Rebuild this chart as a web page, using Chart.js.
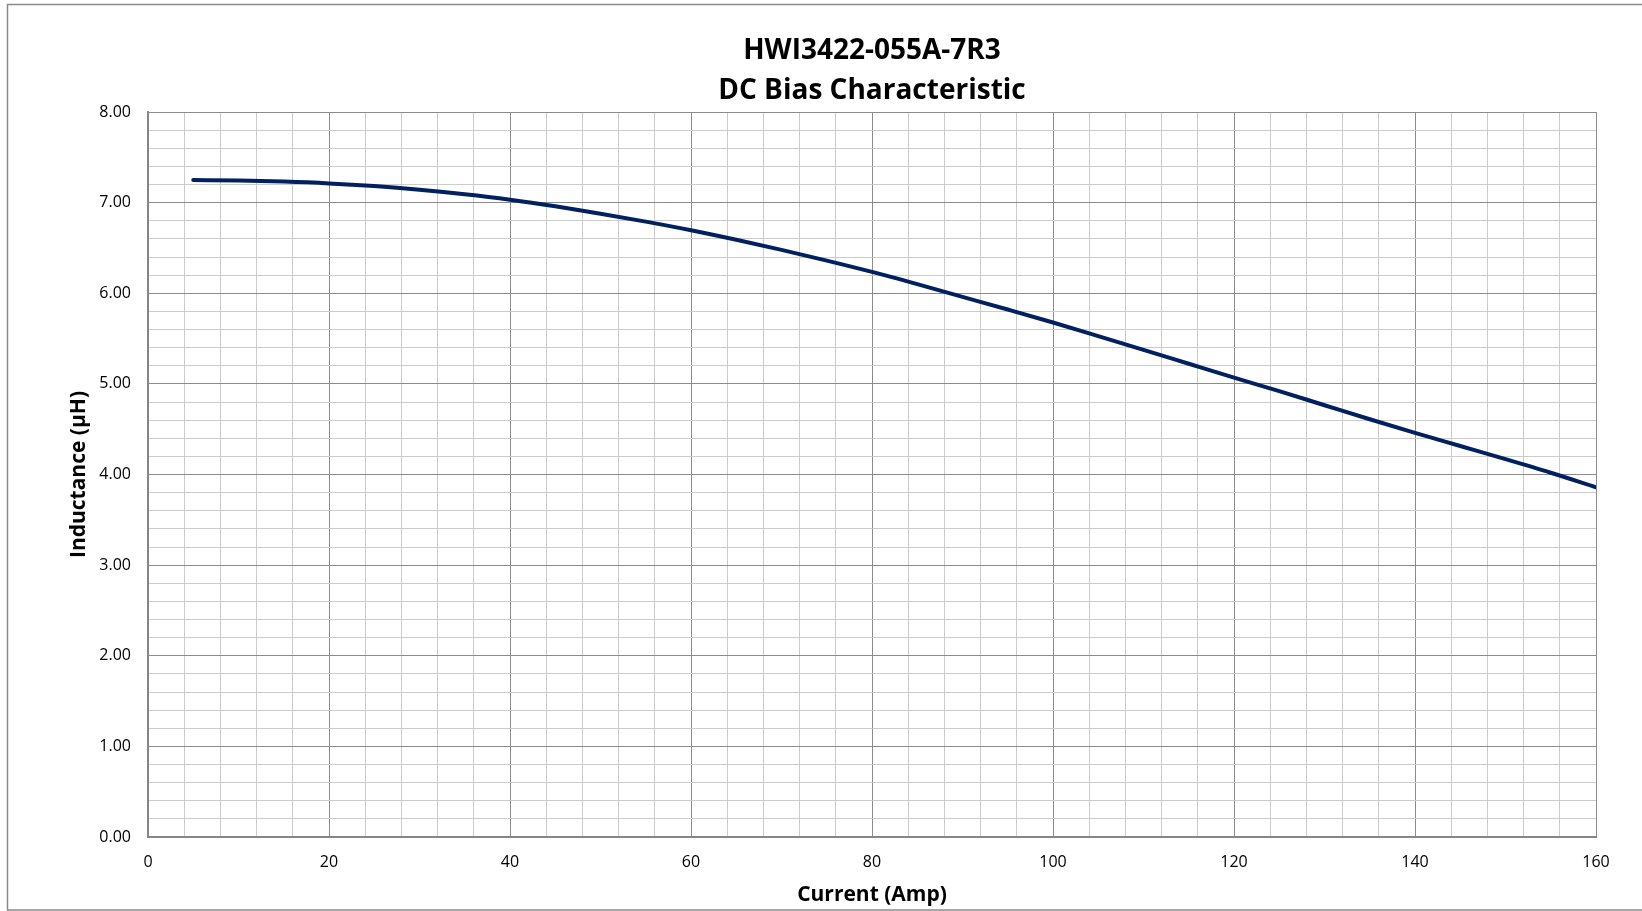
<!DOCTYPE html>
<html>
<head>
<meta charset="utf-8">
<title>HWI3422-055A-7R3 DC Bias Characteristic</title>
<script src="https://cdn.jsdelivr.net/npm/chart.js"></script>
<style>
  html, body { margin: 0; padding: 0; background: #fff; }
  canvas { display: block; }
</style>
</head>
<body>
<canvas id="myChart" width="1642" height="911"></canvas>
<script>
// current (A) and inductance (uH)
const currentAmp = [5, 10, 15, 20, 25, 30, 35, 40, 45, 50, 55, 60, 65, 70, 75, 80,
  85, 90, 95, 100, 105, 110, 115, 120, 125, 130, 135, 140, 145, 150, 155, 160];
const inductanceUH = [7.25, 7.245, 7.233, 7.213, 7.183, 7.143, 7.093, 7.033, 6.961, 6.879, 6.791, 6.696, 6.591, 6.479, 6.361, 6.236,
  6.101, 5.961, 5.821, 5.678, 5.528, 5.376, 5.223, 5.07, 4.92, 4.765, 4.61, 4.46, 4.315, 4.17, 4.02, 3.86];

// labelled (major) ticks
const xMajorTicks = [0, 20, 40, 60, 80, 100, 120, 140, 160];
const yMajorTicks = [0, 1, 2, 3, 4, 5, 6, 7, 8];

const majorGrid = '#8c8c8c';
const minorGrid = '#cbcbcb';

function isMajor(list, v) {
  return list.some(m => Math.abs(m - v) < 1e-6);
}

// white background + outer frame
const frame = {
  id: 'frame',
  beforeDraw(chart) {
    const c = chart.ctx;
    c.save();
    c.fillStyle = '#fff';
    c.fillRect(0, 0, chart.width, chart.height);
    c.strokeStyle = '#8a8a8a';
    c.lineWidth = 1.5;
    c.strokeRect(7.5, 4.5, 1660, 905.5);
    c.restore();
  }
};

const ctx = document.getElementById('myChart');
new Chart(ctx, {
  type: 'line',
  data: {
    datasets: [{
      label: 'Inductance',
      data: currentAmp.map((x, i) => ({ x: x, y: inductanceUH[i] })),
      borderColor: '#002060',
      borderWidth: 4,
      borderCapStyle: 'round',
      pointRadius: 0,
      fill: false,
      cubicInterpolationMode: 'monotone'
    }]
  },
  options: {
    responsive: false,
    animation: false,
    layout: { padding: { left: 0, right: 46, top: 0, bottom: 0 } },
    plugins: {
      legend: { display: false },
      tooltip: { enabled: false },
      title: {
        display: true,
        fullSize: false,
        text: ['HWI3422-055A-7R3', 'DC Bias Characteristic'],
        color: '#000',
        font: { family: 'Open Sans', size: 28, weight: 'bold', lineHeight: 1.43 },
        padding: { top: 31, bottom: 1 }
      }
    },
    scales: {
      x: {
        type: 'linear',
        min: 0,
        max: 160,
        afterFit(scale) { scale.height = 74; },
        ticks: {
          stepSize: 4,
          autoSkip: false,
          maxRotation: 0,
          padding: 16,
          color: '#000',
          font: { family: 'Open Sans', size: 16 },
          callback: v => isMajor(xMajorTicks, v) ? String(v) : ''
        },
        grid: {
          drawTicks: false,
          color: c => (c.tick && isMajor(xMajorTicks, c.tick.value)) ? majorGrid : minorGrid,
          lineWidth: 1
        },
        border: { color: '#868686', width: 2 },
        title: {
          display: true,
          text: 'Current (Amp)',
          color: '#000',
          font: { family: 'Open Sans', size: 21, weight: 'bold' },
          padding: { top: 0, bottom: 3 }
        }
      },
      y: {
        min: 0,
        max: 8,
        afterFit(scale) { scale.width = 148; },
        ticks: {
          stepSize: 0.2,
          autoSkip: false,
          padding: 17,
          color: '#000',
          font: { family: 'Open Sans', size: 16 },
          callback: v => isMajor(yMajorTicks, v) ? Number(v).toFixed(2) : ''
        },
        grid: {
          drawTicks: false,
          color: c => (c.tick && isMajor(yMajorTicks, c.tick.value)) ? majorGrid : minorGrid,
          lineWidth: 1
        },
        border: { color: '#868686', width: 2 },
        title: {
          display: true,
          text: 'Inductance (µH)',
          color: '#000',
          font: { family: 'Open Sans', size: 21, weight: 'bold' },
          padding: { top: 66, bottom: 0 }
        }
      }
    }
  },
  plugins: [frame]
});
</script>
</body>
</html>
